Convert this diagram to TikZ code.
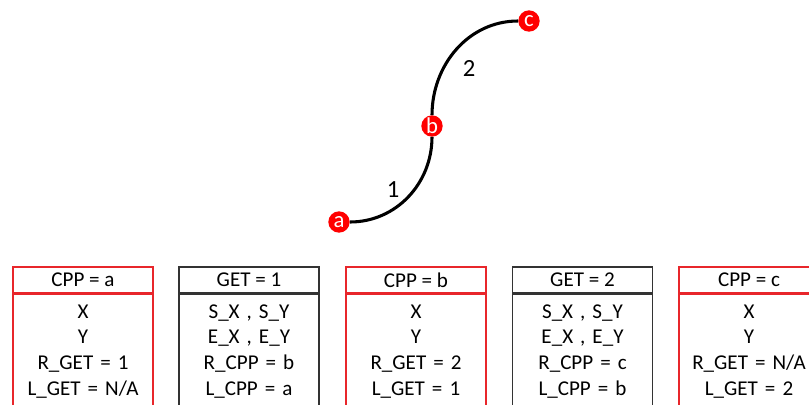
\documentclass[tikz,border=0pt]{standalone}
\usepackage{fontspec}
\setmainfont{Carlito}
\usepackage{xcolor}
\definecolor{PtRed}{HTML}{FF0000}
\definecolor{BoxRed}{HTML}{E8262B}
\definecolor{BoxDark}{HTML}{333333}
\usetikzlibrary{positioning}
\tikzset{
  dot/.style={
    circle, fill=PtRed, text=white,
    inner sep=0pt, minimum size=16pt,
    font=\fontsize{17}{17}\selectfont
  },
  head/.style={
    rectangle, draw=#1, line width=0.8pt,
    minimum width=105pt, minimum height=19.5pt,
    inner sep=0pt, font=\fontsize{15.8}{17}\selectfont
  },
  head/.default=BoxRed,
  body/.style={
    rectangle, draw=#1, line width=0.8pt,
    minimum width=105pt, minimum height=86pt,
    text width=100pt, align=center, inner sep=0pt,
    font=\fontsize{15.8}{19.3}\selectfont
  },
  body/.default=BoxRed,
  curve/.style={line width=2.3pt, color=black},
  lbl/.style={font=\fontsize{18.5}{20}\selectfont},
}
\begin{document}
\begin{tikzpicture}[x=0.75pt, y=0.75pt]
\clip (0,0) rectangle (809,404);

% Control points on the curve
\node[dot] at (339,182) (a) {a};
\node[dot] at (432,278) (b) {b};
\node[dot] at (529,383) (c) {c};

\draw[curve] (a) to[out=0, in=-90] (b);
\draw[curve] (b) to[out=90, in=180] (c);

\node[lbl] at (393,214) (getOneLbl) {1};
\node[lbl] at (469,336) (getTwoLbl) {2};

% CPP a
\node[head] at (83,124) (cppA) {CPP = a};
\node[body, below=0pt of cppA] (cppAbody) {
  X\\
  Y\\
  R\_GET = 1\\
  L\_GET = N/A
};

% GET 1
\node[head=BoxDark] at (249,124) (getOne) {GET = 1};
\node[body=BoxDark, below=0pt of getOne] (getOnebody) {
  S\_X , S\_Y\\
  E\_X , E\_Y\\
  R\_CPP = b\\
  L\_CPP = a
};

% CPP b
\node[head] at (416,124) (cppB) {CPP = b};
\node[body, below=0pt of cppB] (cppBbody) {
  X\\
  Y\\
  R\_GET = 2\\
  L\_GET = 1
};

% GET 2
\node[head=BoxDark] at (582.5,124) (getTwo) {GET = 2};
\node[body=BoxDark, below=0pt of getTwo] (getTwobody) {
  S\_X , S\_Y\\
  E\_X , E\_Y\\
  R\_CPP = c\\
  L\_CPP = b
};

% CPP c
\node[head] at (749,124) (cppC) {CPP = c};
\node[body, below=0pt of cppC] (cppCbody) {
  X\\
  Y\\
  R\_GET = N/A\\
  L\_GET = 2
};

\end{tikzpicture}
\end{document}
